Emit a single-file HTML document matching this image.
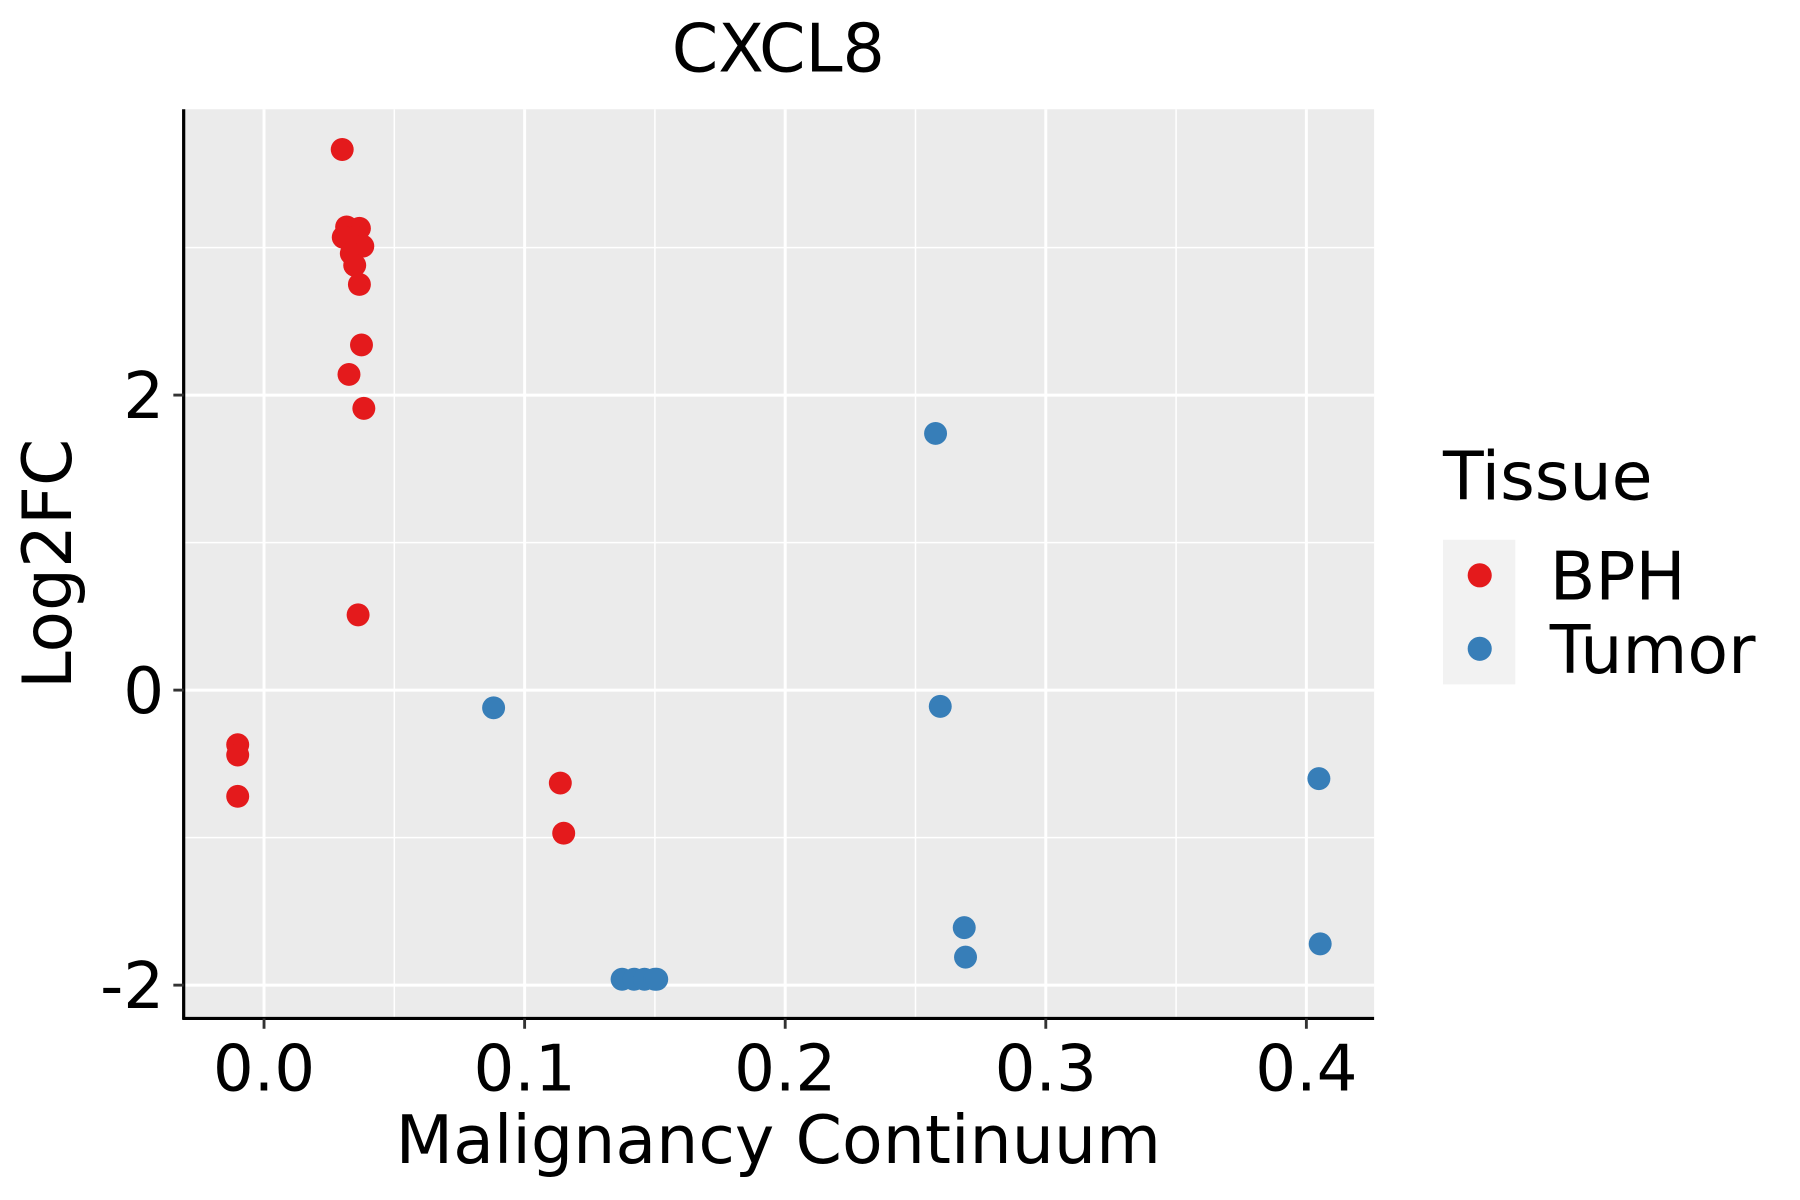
<!DOCTYPE html>
<html><head><meta charset="utf-8"><style>
html,body{margin:0;padding:0;background:#fff;}
svg{display:block;}
text{font-family:"DejaVu Sans","Liberation Sans",sans-serif;fill:#000;}
</style></head><body>
<svg id="chart" width="1800" height="1200" viewBox="0 0 1568 1045">
  <text x="678" y="62" font-size="58" text-anchor="middle">CXCL8</text>
  <rect x="160" y="95" width="1037" height="792" fill="#EBEBEB"/>
  <g id="grid"></g>
  <g id="points"></g>
  <line x1="160" y1="95" x2="160" y2="888" stroke="#000" stroke-width="2.8"/>
  <line x1="159" y1="887" x2="1197" y2="887" stroke="#000" stroke-width="2.8"/>
  <g id="ticks"></g>
  <text x="678" y="1013" font-size="58" text-anchor="middle">Malignancy Continuum</text>
  <text transform="translate(62,491) rotate(-90)" font-size="59" text-anchor="middle">Log2FC</text>
  <g>
    <text x="1257" y="435" font-size="58">Tissue</text>
    <rect x="1257" y="470" width="63" height="126" fill="#F2F2F2"/>
    <circle cx="1289" cy="501" r="10.5" fill="#E41A1C"/>
    <circle cx="1289" cy="565" r="10.5" fill="#377EB8"/>
    <text x="1350" y="522" font-size="58">BPH</text>
    <text x="1350" y="586" font-size="58">Tumor</text>
  </g>
</svg>
<script>
const bphX = [0.030,0.0317,0.0366,0.0304,0.0350,0.0379,0.0335,0.0348,0.0366,0.0374,0.0326,0.0383,0.0361,-0.0101,-0.0101,-0.0101,0.1137,0.115];
const bphY = [3.665,3.14,3.13,3.07,3.07,3.01,2.96,2.88,2.75,2.34,2.14,1.91,0.51,-0.37,-0.44,-0.72,-0.63,-0.97];
const tumorX = [0.0881,0.2577,0.2595,0.2687,0.2692,0.4048,0.4053,0.1374,0.142,0.146,0.150,0.1507];
const tumorY = [-0.12,1.74,-0.11,-1.61,-1.81,-0.60,-1.72,-1.96,-1.96,-1.96,-1.96,-1.96];
const xTicks = [0,0.1,0.2,0.3,0.4];
const xTickLabels = ["0.0","0.1","0.2","0.3","0.4"];
const yTicks = [-2,0,2];
const yTickLabels = ["-2","0","2"];
const xMinor = [0.05,0.15,0.25,0.35];
const yMinor = [-1,1,3];

const NS = "http://www.w3.org/2000/svg";
function sx(v){ return 230 + v*2270; }
function sy(v){ return 601 - v*128.5; }
function mk(tag, attrs, parent){
  const e = document.createElementNS(NS, tag);
  for (const k in attrs) e.setAttribute(k, attrs[k]);
  parent.appendChild(e);
  return e;
}
const grid = document.getElementById('grid');
const ticks = document.getElementById('ticks');
const pts = document.getElementById('points');
xMinor.forEach(v=>{
  const l = mk('line',{x1:sx(v),x2:sx(v),y1:95,y2:887,stroke:'#fff','stroke-width':1.3},grid);
  
  
});
yMinor.forEach(v=>{
  const l = mk('line',{x1:160,x2:1197,y1:sy(v),y2:sy(v),stroke:'#fff','stroke-width':1.3},grid);
  
  
});
xTicks.forEach((v,i)=>{
  const l = mk('line',{x1:sx(v),x2:sx(v),y1:95,y2:887,stroke:'#fff','stroke-width':2.6},grid);
  
  
  const t = mk('line',{x1:sx(v),x2:sx(v),y1:887,y2:896,stroke:'#333','stroke-width':2.5},ticks);
  
  
  const tx = mk('text',{x:sx(v),y:950,'font-size':56,'text-anchor':'middle'},ticks);
  tx.textContent = xTickLabels[i];
  
  
});
yTicks.forEach((v,i)=>{
  const l = mk('line',{x1:160,x2:1197,y1:sy(v),y2:sy(v),stroke:'#fff','stroke-width':2.6},grid);
  
  
  const t = mk('line',{x1:151,x2:160,y1:sy(v),y2:sy(v),stroke:'#333','stroke-width':2.5},ticks);
  
  
  const tx = mk('text',{x:143,y:sy(v)+20,'font-size':56,'text-anchor':'end'},ticks);
  tx.textContent = yTickLabels[i];
  
  
});
bphX.forEach((v,i)=>{
  const c = mk('circle',{cx:sx(v),cy:sy(bphY[i]),r:10,fill:'#E41A1C'},pts);
  
  
});
tumorX.forEach((v,i)=>{
  const c = mk('circle',{cx:sx(v),cy:sy(tumorY[i]),r:10,fill:'#377EB8'},pts);
  
  
});
</script>
</body></html>
